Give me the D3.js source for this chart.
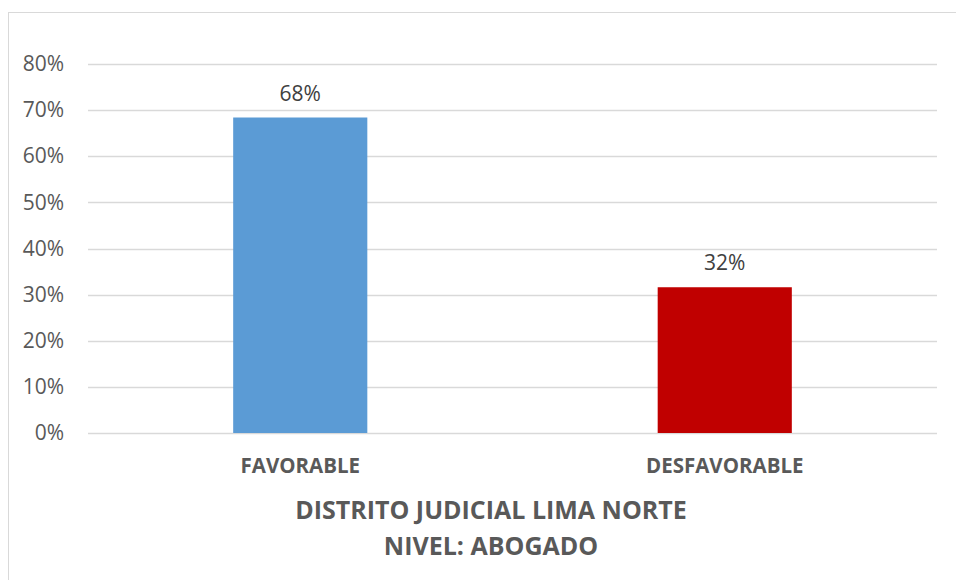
<!DOCTYPE html>
<html>
<head>
<meta charset="utf-8">
<script src="https://cdn.jsdelivr.net/npm/d3@7"></script>
<style>
  html, body { margin: 0; padding: 0; background: #fff; }
  svg { display: block; font-family: "Open Sans", sans-serif; }
</style>
</head>
<body>
<div id="chart"></div>
<script>
const categories = ["FAVORABLE", "DESFAVORABLE"];
const values = [0.684, 0.316];
const labels = ["68%", "32%"];
const barColors = ["#5b9bd5", "#c00000"];
const yTicks = [0, 0.1, 0.2, 0.3, 0.4, 0.5, 0.6, 0.7, 0.8];
const titleLines = ["DISTRITO JUDICIAL LIMA NORTE", "NIVEL: ABOGADO"];

const W = 956, H = 580;
const margin = { top: 64, right: 19, bottom: 147, left: 88 };
const width = W - margin.left - margin.right;
const height = H - margin.top - margin.bottom;

const svg = d3.select("#chart").append("svg")
  .attr("width", W)
  .attr("height", H);

// chart frame
svg.append("rect")
  .attr("x", 8.5).attr("y", 12.5)
  .attr("width", 960).attr("height", 600)
  .attr("fill", "none")
  .attr("stroke", "#d9d9d9");

const g = svg.append("g")
  .attr("transform", `translate(${margin.left},${margin.top})`);

const x = d3.scaleBand()
  .domain(categories)
  .range([0, width])
  .paddingInner(0.684)
  .paddingOuter(0.342);

const y = d3.scaleLinear().domain([0, 0.8]).range([height, 0]);

// gridlines
g.append("g")
  .selectAll("line")
  .data(yTicks)
  .join("line")
  .attr("x1", 0).attr("x2", width)
  .attr("y1", d => Math.round(y(d)) + 0.5)
  .attr("y2", d => Math.round(y(d)) + 0.5)
  .attr("stroke", "#d9d9d9")
  .attr("stroke-width", 1.3);

// y axis labels
const yAxis = d3.axisLeft(y)
  .tickValues(yTicks)
  .tickFormat(d3.format(".0%"))
  .tickSize(0)
  .tickPadding(24);

g.append("g").call(yAxis)
  .call(s => s.select(".domain").remove())
  .selectAll("text")
  .attr("fill", "#595959")
  .style("font-size", "21px")
  .style("font-family", "'Open Sans', sans-serif");

// bars
g.selectAll("rect.bar")
  .data(values)
  .join("rect")
  .attr("class", "bar")
  .attr("x", (d, i) => x(categories[i]))
  .attr("y", d => y(d))
  .attr("width", x.bandwidth())
  .attr("height", d => height - y(d))
  .attr("fill", (d, i) => barColors[i]);

// data labels
g.selectAll("text.value")
  .data(values)
  .join("text")
  .attr("class", "value")
  .attr("x", (d, i) => x(categories[i]) + x.bandwidth() / 2)
  .attr("y", d => y(d) - 17)
  .attr("text-anchor", "middle")
  .attr("fill", "#404040")
  .style("font-size", "21px")
  .text((d, i) => labels[i]);

// category labels
const xAxis = d3.axisBottom(x).tickSize(0).tickPadding(0);
g.append("g")
  .attr("transform", `translate(0,${height})`)
  .call(xAxis)
  .call(s => s.select(".domain").remove())
  .selectAll("text")
  .attr("dy", null)
  .attr("y", 40)
  .attr("fill", "#595959")
  .style("font-size", "20.5px")
  .style("font-weight", "bold")
  .style("font-family", "'Open Sans', sans-serif");

// axis title
svg.append("g")
  .selectAll("text")
  .data(titleLines)
  .join("text")
  .attr("x", 491)
  .attr("y", (d, i) => 519 + i * 36)
  .attr("text-anchor", "middle")
  .attr("fill", "#595959")
  .style("font-size", "25px")
  .style("font-weight", "bold")
  .text(d => d);
</script>
</body>
</html>
